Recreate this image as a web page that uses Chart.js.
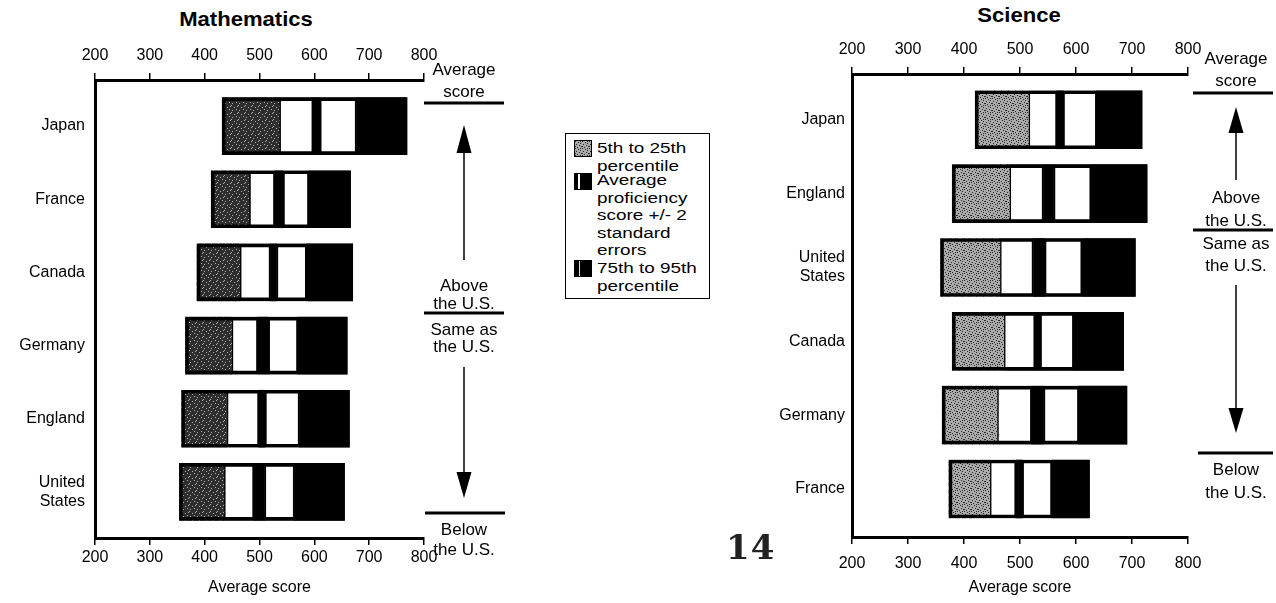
<!DOCTYPE html>
<html>
<head>
<meta charset="utf-8">
<script src="https://cdn.jsdelivr.net/npm/chart.js@4.4.1/dist/chart.umd.min.js"></script>
<style>
  body { margin: 0; width: 1276px; height: 603px; background: #fff; position: relative; overflow: hidden;
         font-family: Arial, "Liberation Sans", sans-serif; color: #000; }
  .box { position: absolute; top: 0; height: 603px; }
  #mathBox { left: 0; width: 520px; }
  #sciBox { left: 740px; width: 536px; }
  .title { position: absolute; font-weight: bold; font-size: 21px; transform: translateX(-50%) scaleX(1.05); white-space: nowrap; }
  #legend { position: absolute; left: 565px; top: 133px; width: 143px; height: 164px; border: 1.5px solid #000; }
  #legend .txt { position: absolute; left: 31px; font-size: 15.5px; line-height: 17.6px; transform: scaleX(1.22); transform-origin: left top; white-space: nowrap; }
  #legend .sw { position: absolute; left: 8px; width: 18px; height: 17px; border: 1.5px solid #000; box-sizing: border-box; }
  #pageNo { position: absolute; left: 726px; top: 527px; font-family: "DejaVu Serif", serif; font-size: 34px; font-weight: bold;
            letter-spacing: 1px; color: #222; }
</style>
</head>
<body>
<div class="title" style="left:246px; top:7px;">Mathematics</div>
<div class="title" style="left:1019px; top:3px;">Science</div>
<div class="box" id="mathBox"><canvas id="mathChart" width="520" height="603"></canvas></div>
<div class="box" id="sciBox"><canvas id="sciChart" width="536" height="603"></canvas></div>
<div id="legend">
  <span class="sw" id="sw1" style="top:6px;"></span>
  <span class="txt" style="top:5px;">5th to 25th<br>percentile</span>
  <span class="sw" id="sw2" style="top:39px;"></span>
  <span class="txt" style="top:37px;">Average<br>proficiency<br>score +/- 2<br>standard<br>errors</span>
  <span class="sw" id="sw3" style="top:126px;"></span>
  <span class="txt" style="top:125px;">75th to 95th<br>percentile</span>
</div>
<div id="pageNo">14</div>

<script>
// Mathematics, top to bottom
const mathCountries = ["Japan", "France", "Canada", "Germany", "England", "United States"];
const mathP5  = [432, 412, 386, 365, 358, 354];
const mathP25 = [536, 481, 464, 449, 440, 435];
const mathLo  = [598, 528, 520, 497, 499, 490];
const mathHi  = [610, 543, 531, 516, 510, 509];
const mathP75 = [677, 590, 586, 570, 573, 564];
const mathP95 = [769, 666, 670, 660, 664, 655];

// Science, top to bottom
const sciCountries = ["Japan", "England", "United States", "Canada", "Germany", "France"];
const sciP5  = [420, 379, 358, 379, 361, 373];
const sciP25 = [515, 481, 464, 471, 459, 446];
const sciLo  = [566, 542, 524, 527, 521, 493];
const sciHi  = [577, 560, 544, 536, 542, 504];
const sciP75 = [637, 627, 611, 596, 605, 557];
const sciP95 = [718, 727, 706, 685, 691, 624];

const scoreTicks = [200, 300, 400, 500, 600, 700, 800];

const FONT = 'Arial, "Liberation Sans", sans-serif';
Chart.defaults.font.family = FONT;
Chart.defaults.color = "#000";

// speckled tile for the 5th-25th segment
function stippleTile(base, speck, dots) {
  const c = document.createElement("canvas");
  c.width = 7; c.height = 7;
  const g = c.getContext("2d");
  g.fillStyle = base;
  g.fillRect(0, 0, 7, 7);
  g.fillStyle = speck;
  dots.forEach(([x, y]) => g.fillRect(x, y, 1, 1));
  return c;
}
const patCtx = document.createElement("canvas").getContext("2d");
const mathTile = stippleTile("#2e2e2e", "#b0b0b0", [[0, 0], [3, 2], [5, 4], [1, 5], [6, 1]]);
const sciTile = stippleTile("#aaaaaa", "#2a2a2a", [[0, 0], [3, 1], [5, 2], [1, 3], [4, 4], [6, 5], [2, 6], [0, 5], [5, 0]]);
const mathPattern = patCtx.createPattern(mathTile, "repeat");
const sciPattern = patCtx.createPattern(sciTile, "repeat");

document.getElementById("sw1").style.background = `url(${sciTile.toDataURL()})`;
document.getElementById("sw2").style.background = "linear-gradient(90deg, #000 0 3px, #fff 3px 5px, #000 5px)";
document.getElementById("sw3").style.background = "linear-gradient(90deg, #000 0 4px, #ddd 4px 5px, #000 5px)";

function spans(a, b) {
  return a.map((v, i) => ({ x: [v, b[i]], y: i }));
}

const sideNotes = {
  id: "sideNotes",
  afterDraw(chart, args, opts) {
    const { ctx, chartArea } = chart;
    const r = chartArea.right;
    const cx = r + opts.dx;
    ctx.save();
    ctx.fillStyle = "#000";
    ctx.strokeStyle = "#000";
    ctx.font = "17px " + FONT;
    ctx.textAlign = "center";
    ctx.textBaseline = "middle";
    opts.texts.forEach(([t, y]) => ctx.fillText(t, cx, y));
    ctx.lineWidth = 3;
    opts.rules.forEach(([x0, x1, y]) => {
      ctx.beginPath();
      ctx.moveTo(r + x0, y);
      ctx.lineTo(r + x1, y);
      ctx.stroke();
    });
    opts.arrows.forEach(([from, base, tip]) => {
      ctx.lineWidth = 1.5;
      ctx.beginPath();
      ctx.moveTo(cx, from);
      ctx.lineTo(cx, base);
      ctx.stroke();
      ctx.beginPath();
      ctx.moveTo(cx - 7.5, base);
      ctx.lineTo(cx + 7.5, base);
      ctx.lineTo(cx, tip);
      ctx.closePath();
      ctx.fill();
    });
    ctx.restore();
  },
};

function makeChart(id, countries, p5, p25, lo, hi, p75, p95, pattern, cfg) {
  const seg = (data, bg, bw) => ({
    data,
    backgroundColor: bg,
    borderColor: "#000",
    borderWidth: bw,
    borderSkipped: false,
    grouped: false,
    barThickness: cfg.barThickness,
    order: 1,
  });
  const outline = seg(spans(p5, p95), "rgba(0,0,0,0)", 3);
  outline.order = 0;
  const tickFont = { size: 16 };

  return new Chart(document.getElementById(id), {
    type: "bar",
    data: {
      datasets: [
        seg(spans(p5, p25), pattern, 0),
        seg(spans(p25, lo), "#fff", 2),
        seg(spans(lo, hi), "#000", 0),
        seg(spans(hi, p75), "#fff", 2),
        seg(spans(p75, p95), "#000", 0),
        outline,
      ],
    },
    options: {
      indexAxis: "y",
      responsive: false,
      animation: false,
      layout: { padding: { left: 0, right: cfg.padRight, top: 0, bottom: 0 } },
      plugins: {
        legend: { display: false },
        tooltip: { enabled: false },
        sideNotes: cfg.notes,
      },
      scales: {
        y: {
          type: "linear",
          reverse: true,
          offset: false,
          min: cfg.yMin,
          max: cfg.yMax,
          afterBuildTicks: (scale) => {
            scale.ticks = countries.map((c, i) => ({ value: i }));
          },
          afterFit: (scale) => { scale.width = cfg.yWidth; },
          ticks: {
            autoSkip: false,
            padding: cfg.labelPad,
            font: tickFont,
            callback: (v) => {
              const name = countries[v];
              return name && name.includes(" ") ? name.split(" ") : name;
            },
          },
          grid: { offset: false, drawOnChartArea: false, drawTicks: false },
          border: { color: "#000", width: 3 },
        },
        x: {
          type: "linear",
          position: "bottom",
          min: 200,
          max: 800,
          afterBuildTicks: (scale) => { scale.ticks = scoreTicks.map((v) => ({ value: v })); },
          afterFit: (scale) => { scale.height = cfg.bottomH; },
          ticks: { font: tickFont, padding: cfg.bottomPad, maxRotation: 0 },
          grid: { drawOnChartArea: false, color: "#000", lineWidth: 1.5, tickLength: 7 },
          border: { color: "#000", width: 3 },
          title: { display: true, text: "Average score", font: { size: 16 }, padding: { top: 0, bottom: 6 } },
        },
        x2: {
          type: "linear",
          position: "top",
          min: 200,
          max: 800,
          afterBuildTicks: (scale) => { scale.ticks = scoreTicks.map((v) => ({ value: v })); },
          afterFit: (scale) => { scale.height = cfg.topH; },
          ticks: { font: tickFont, padding: 8, maxRotation: 0 },
          grid: { drawOnChartArea: false, color: "#000", lineWidth: 1.5, tickLength: 7 },
          border: { color: "#000", width: 3 },
        },
      },
    },
    plugins: [sideNotes],
  });
}

makeChart("mathChart", mathCountries, mathP5, mathP25, mathLo, mathHi, mathP75, mathP95, mathPattern, {
  barThickness: 57,
  padRight: 96,
  yMin: -0.63,
  yMax: 5.63,
  yWidth: 95,
  labelPad: 10,
  topH: 80,
  bottomH: 65,
  bottomPad: 3,
  notes: {
    dx: 40,
    texts: [["Average", 70], ["score", 92], ["Above", 286], ["the U.S.", 304],
            ["Same as", 330], ["the U.S.", 347], ["Below", 530], ["the U.S.", 550]],
    rules: [[0, 80, 103], [0, 80, 313], [1, 81, 513]],
    arrows: [[260, 153, 125], [367, 472, 498]],
  },
});

makeChart("sciChart", sciCountries, sciP5, sciP25, sciLo, sciHi, sciP75, sciP95, sciPattern, {
  barThickness: 58,
  padRight: 88,
  yMin: -0.62,
  yMax: 5.65,
  yWidth: 112,
  labelPad: 7,
  topH: 74,
  bottomH: 66,
  bottomPad: 10,
  notes: {
    dx: 48,
    texts: [["Average", 59], ["score", 81], ["Above", 198], ["the U.S.", 221],
            ["Same as", 244], ["the U.S.", 266], ["Below", 470], ["the U.S.", 493]],
    rules: [[5, 85, 93], [5, 85, 230], [10, 85, 453]],
    arrows: [[180, 133, 107], [285, 408, 433]],
  },
});
</script>
</body>
</html>
